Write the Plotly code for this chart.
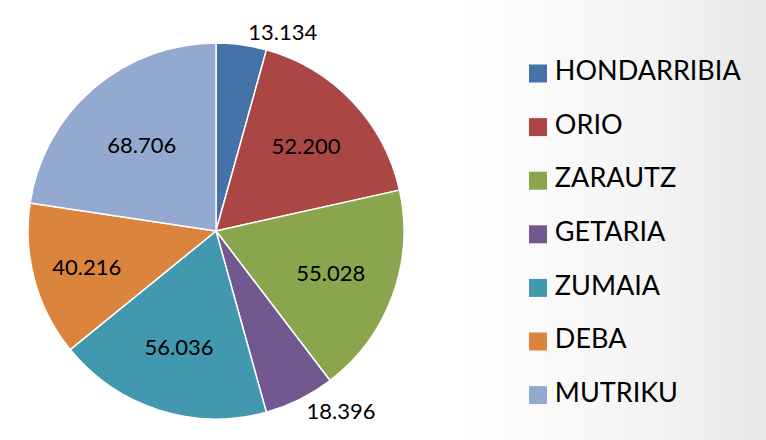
import plotly.graph_objects as go

# ---- data ----
labels = ["HONDARRIBIA", "ORIO", "ZARAUTZ", "GETARIA", "ZUMAIA", "DEBA", "MUTRIKU"]
values = [13.134, 52.200, 55.028, 18.396, 56.036, 40.216, 68.706]
value_text = ["13.134", "52.200", "55.028", "18.396", "56.036", "40.216", "68.706"]
colors = ["#4572A7", "#AA4643", "#89A54E", "#71588F", "#4198AF", "#DB843D", "#93A9CF"]
text_pos = ["outside", "inside", "inside", "outside", "inside", "inside", "inside"]

W, H = 766, 440
FONT = "Lato"

fig = go.Figure()

# subtle background gradient (white -> light grey towards the right)
fig.add_trace(go.Scatter(
    x=[0, 1, 1, 0, 0], y=[0, 0, 1, 1, 0], mode="lines",
    line=dict(width=0), fill="toself",
    fillgradient=dict(type="horizontal",
                      colorscale=[[0, "#ffffff"], [0.6, "#ffffff"], [0.85, "#f4f4f4"],
                                  [1, "#e7e7e7"]]),
    xaxis="x", yaxis="y", hoverinfo="skip", showlegend=False,
))

# pie
cx, cy, r = 216, 231, 188
fig.add_trace(go.Pie(
    labels=labels, values=values, text=value_text,
    textinfo="text", textposition=text_pos,
    sort=False, direction="clockwise", rotation=0,
    marker=dict(colors=colors, line=dict(color="white", width=1.5)),
    textfont=dict(family=FONT, size=22, color="black"),
    insidetextorientation="horizontal",
    domain=dict(x=[(cx - r) / W, (cx + r) / W], y=[(H - cy - r) / H, (H - cy + r) / H]),
    showlegend=False, hoverinfo="label+value",
))

# legend drawn as a scatter on its own axes
idx = list(range(len(labels)))
fig.add_trace(go.Scatter(
    x=[0] * len(labels), y=idx, mode="markers",
    marker=dict(symbol="square", size=18, color=colors, line=dict(width=0)),
    xaxis="x2", yaxis="y2", hoverinfo="skip", showlegend=False,
))
fig.add_trace(go.Scatter(
    x=[0.055] * len(labels), y=idx, mode="text", text=labels,
    textposition="middle right",
    textfont=dict(family=FONT, size=27, color="black"),
    xaxis="x2", yaxis="y2", hoverinfo="skip", showlegend=False,
))

top, step = 73.5, 53.6
x0 = (538 - 0.6 * W) / (0.4 * W)
fig.update_layout(
    width=W, height=H,
    margin=dict(l=0, r=0, t=0, b=0),
    paper_bgcolor="white", plot_bgcolor="rgba(0,0,0,0)",
    showlegend=False,
    xaxis=dict(domain=[0, 1], range=[0, 1], visible=False, fixedrange=True),
    yaxis=dict(domain=[0, 1], range=[0, 1], visible=False, fixedrange=True),
    xaxis2=dict(domain=[0.6, 1], range=[-x0, 1 - x0], visible=False, fixedrange=True),
    yaxis2=dict(domain=[0, 1], range=[(H - top) / step, -top / step],
                visible=False, fixedrange=True),
)

fig.write_html("out.html", config={"displayModeBar": False},
               post_script="document.body.style.margin='0';")
